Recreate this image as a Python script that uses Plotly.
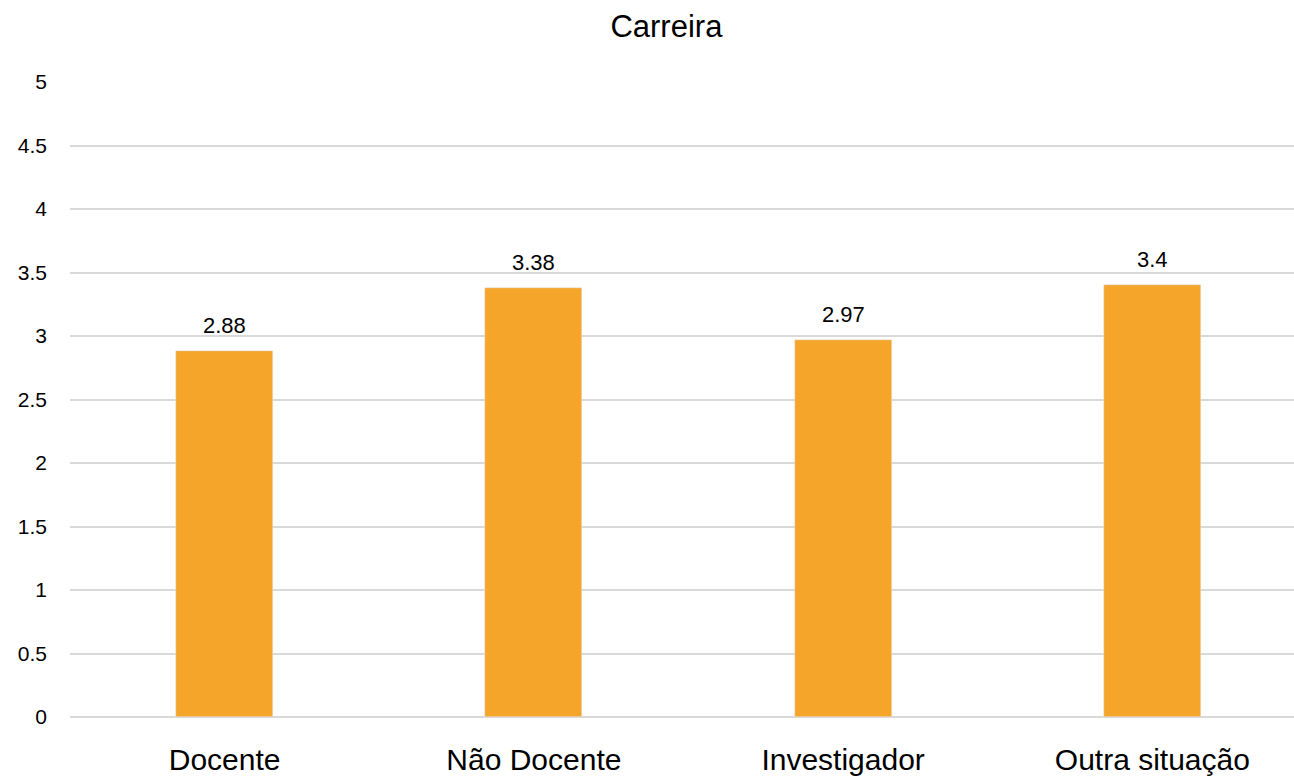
import plotly.graph_objects as go

categorias = ['Docente', 'Não Docente', 'Investigador', 'Outra situação']
valores = [2.88, 3.38, 2.97, 3.4]
rotulos = ['2.88', '3.38', '2.97', '3.4']
ticks_y = [0, 0.5, 1, 1.5, 2, 2.5, 3, 3.5, 4, 4.5, 5]
ticks_y_txt = ['0', '0.5', '1', '1.5', '2', '2.5', '3', '3.5', '4', '4.5', '5']

FONTE = 'Liberation Sans, Arial, sans-serif'

fig = go.Figure()

fig.add_trace(go.Bar(
    x=list(range(len(categorias))),
    y=valores,
    marker_color='#F4A52A',
    width=0.314,
    hoverinfo='skip'
))

# rótulos de dados acima das barras
for i, (v, r) in enumerate(zip(valores, rotulos)):
    fig.add_annotation(
        x=i, y=v, text=r, showarrow=False,
        yanchor='bottom', yshift=11,
        font=dict(size=22, color='#000000', family=FONTE)
    )

fig.update_layout(
    title=dict(text='Carreira', x=0.515, xref='container', y=0.966, yref='container',
               xanchor='center', yanchor='middle',
               font=dict(size=31, color='#000000', family=FONTE)),
    width=1294, height=776,
    margin=dict(l=70, r=0, t=82, b=59),
    plot_bgcolor='white',
    paper_bgcolor='white',
    showlegend=False,
    bargap=0,
    font=dict(family=FONTE, color='#000000')
)

fig.update_xaxes(
    range=[-0.5, 3.458],
    tickvals=list(range(len(categorias))),
    ticktext=categorias,
    tickfont=dict(size=30, color='#000000'),
    showgrid=False,
    zeroline=False,
    ticks='',
    ticklabelstandoff=22
)

fig.update_yaxes(
    range=[0, 5],
    tickvals=ticks_y,
    ticktext=ticks_y_txt,
    tickfont=dict(size=21, color='#000000'),
    showgrid=True,
    gridcolor='#D9D9D9',
    gridwidth=1.5,
    zeroline=True,
    zerolinecolor='#D9D9D9',
    zerolinewidth=1.5,
    ticks='',
    ticklabelstandoff=22
)

fig.write_html('out.html', config={'displayModeBar': False},
               post_script="document.body.style.margin='0';document.body.style.overflow='hidden';")
